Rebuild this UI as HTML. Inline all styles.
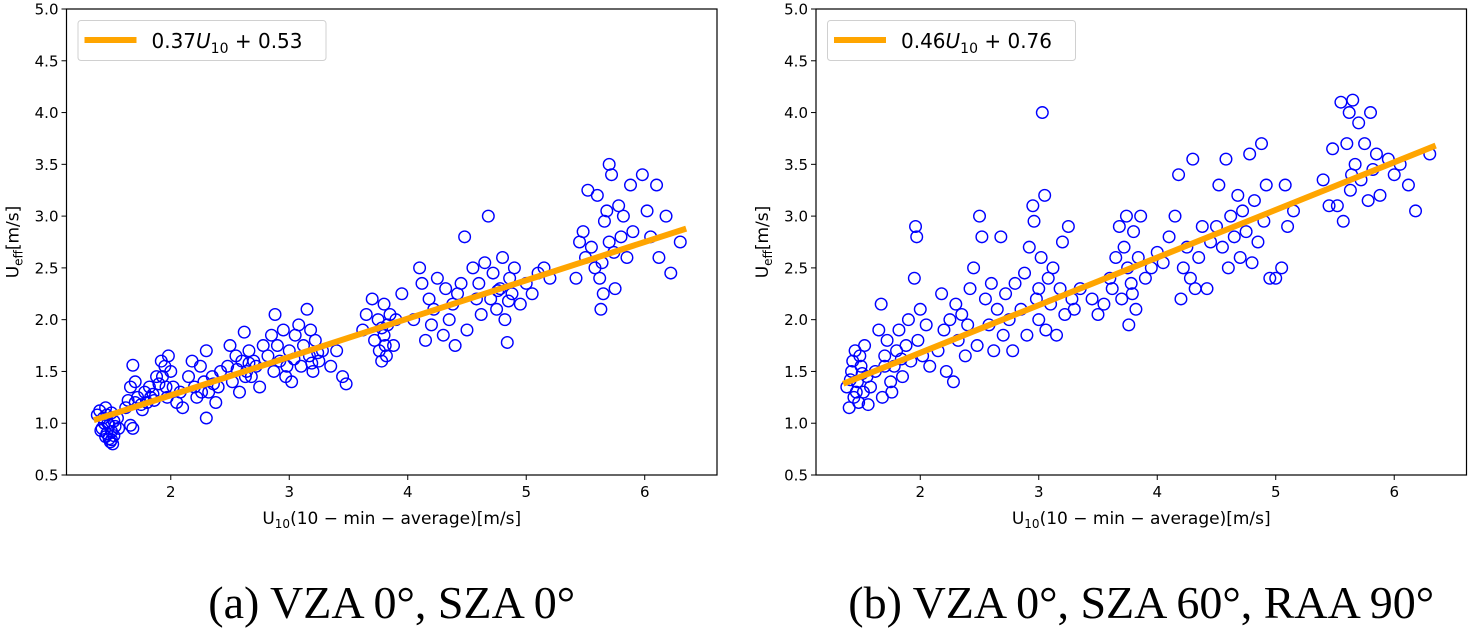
<!DOCTYPE html>
<html><head><meta charset="utf-8"><style>
body{margin:0;background:#fff;}
svg{display:block;font-family:"DejaVu Sans","Liberation Sans",sans-serif;}
</style></head><body>
<svg id="fig" width="1470" height="632" viewBox="0 0 1470 632"></svg>
<script>
const xTicks=[2,3,4,5,6];
const yTicks=[0.5,1.0,1.5,2.0,2.5,3.0,3.5,4.0,4.5,5.0];
const slopes=[0.37,0.46];
const intercepts=[0.53,0.76];
const legendLabels=["0.37","0.46"];
const legendInts=["0.53","0.76"];
const captions=["(a) VZA 0°, SZA 0°","(b) VZA 0°, SZA 60°, RAA 90°"];
const pointsA=[[1.38,1.08],[1.40,1.12],[1.42,0.95],[1.43,1.05],[1.45,1.15],[1.46,0.90],[1.47,1.0],[1.48,0.85],[1.49,0.82],[1.50,0.92],[1.50,1.1],[1.52,0.88],[1.53,0.97],[1.55,1.05],[1.44,1.0],[1.41,0.93],[1.51,0.80],[1.56,0.95],[1.46,1.08],[1.48,0.98],[1.52,1.02],[1.45,0.87],[1.50,0.84],
[1.62,1.15],[1.64,1.22],[1.66,1.35],[1.68,1.56],[1.68,0.95],[1.70,1.40],[1.72,1.25],[1.75,1.18],[1.78,1.30],[1.80,1.20],[1.82,1.35],[1.85,1.28],[1.88,1.45],[1.90,1.38],[1.92,1.60],[1.95,1.55],[1.97,1.25],[1.98,1.65],[2.0,1.50],[2.02,1.35],[2.05,1.20],[2.08,1.30],[2.1,1.15],[1.76,1.13],[1.86,1.22],[1.70,1.20],[1.83,1.25],[1.93,1.45],[1.96,1.35],[1.66,0.98],
[2.15,1.45],[2.18,1.60],[2.20,1.35],[2.22,1.25],[2.25,1.55],[2.28,1.40],[2.30,1.05],[2.30,1.70],[2.32,1.30],[2.35,1.45],[2.38,1.20],[2.40,1.35],[2.42,1.50],[2.26,1.30],[2.36,1.38],
[2.48,1.55],[2.50,1.75],[2.52,1.40],[2.55,1.65],[2.58,1.30],[2.60,1.60],[2.62,1.88],[2.64,1.50],[2.66,1.70],[2.68,1.45],[2.70,1.60],[2.72,1.55],[2.75,1.35],[2.78,1.75],[2.56,1.52],[2.63,1.45],[2.66,1.58],
[2.82,1.65],[2.85,1.85],[2.87,1.50],[2.88,2.05],[2.90,1.75],[2.92,1.60],[2.95,1.90],[2.97,1.45],[3.0,1.70],[3.02,1.40],[3.05,1.85],[3.08,1.95],[3.10,1.55],[2.98,1.55],[3.04,1.62],
[3.12,1.75],[3.15,2.10],[3.17,1.65],[3.18,1.90],[3.20,1.50],[3.22,1.80],[3.25,1.60],[3.28,1.70],[3.35,1.55],[3.45,1.45],[3.48,1.38],[3.40,1.70],[3.19,1.58],[3.24,1.68],
[3.62,1.90],[3.65,2.05],[3.70,2.20],[3.72,1.80],[3.75,2.00],[3.76,1.70],[3.78,1.60],[3.80,2.15],[3.80,1.85],[3.82,1.65],[3.83,1.95],[3.85,2.05],[3.88,1.75],[3.90,2.00],[3.95,2.25],[3.78,1.92],[3.81,1.75],
[4.05,2.00],[4.10,2.50],[4.12,2.35],[4.15,1.80],[4.18,2.20],[4.20,1.95],[4.22,2.10],[4.25,2.40],[4.30,1.85],[4.32,2.30],[4.35,2.00],[4.38,2.15],[4.40,1.75],[4.42,2.25],[4.45,2.35],
[4.48,2.80],[4.50,1.90],[4.55,2.50],[4.58,2.20],[4.60,2.35],[4.62,2.05],[4.65,2.55],[4.68,3.00],[4.70,2.20],[4.72,2.45],[4.75,2.10],[4.78,2.30],[4.80,2.60],[4.82,2.00],[4.84,1.78],[4.86,2.40],[4.88,2.25],[4.90,2.50],[4.95,2.15],[4.76,2.28],[4.85,2.18],
[5.0,2.35],[5.05,2.25],[5.10,2.45],[5.15,2.50],[5.20,2.40],
[5.42,2.40],[5.45,2.75],[5.48,2.85],[5.50,2.60],[5.52,3.25],[5.55,2.70],[5.58,2.50],[5.60,3.20],[5.62,2.40],[5.63,2.10],[5.65,2.25],[5.66,2.95],[5.68,3.05],[5.70,3.50],[5.72,3.40],[5.74,2.65],[5.75,2.30],[5.78,3.10],[5.80,2.80],[5.82,3.00],[5.85,2.60],[5.88,3.30],[5.90,2.85],[5.64,2.55],[5.70,2.75],
[5.98,3.40],[6.02,3.05],[6.05,2.80],[6.10,3.30],[6.12,2.60],[6.18,3.00],[6.22,2.45],[6.30,2.75]];
const pointsB=[[1.38,1.35],[1.40,1.15],[1.42,1.50],[1.44,1.25],[1.45,1.70],[1.47,1.40],[1.48,1.20],[1.50,1.55],[1.52,1.30],[1.53,1.75],[1.55,1.45],[1.56,1.18],[1.43,1.60],[1.49,1.65],[1.58,1.35],[1.41,1.42],[1.46,1.30],[1.51,1.48],
[1.62,1.50],[1.65,1.90],[1.67,2.15],[1.68,1.25],[1.70,1.65],[1.72,1.80],[1.75,1.40],[1.78,1.55],[1.80,1.70],[1.82,1.90],[1.85,1.45],[1.88,1.75],[1.90,2.00],[1.92,1.60],[1.95,2.40],[1.96,2.90],[1.97,2.80],[1.98,1.80],[2.0,2.10],[2.02,1.65],[2.05,1.95],[2.08,1.55],[1.76,1.30],[1.70,1.55],[1.84,1.62],
[2.15,1.70],[2.18,2.25],[2.20,1.90],[2.22,1.50],[2.25,2.00],[2.28,1.40],[2.30,2.15],[2.32,1.80],[2.35,2.05],[2.38,1.65],[2.40,1.95],[2.42,2.30],
[2.45,2.50],[2.48,1.75],[2.50,3.00],[2.52,2.80],[2.55,2.20],[2.58,1.95],[2.60,2.35],[2.62,1.70],[2.65,2.10],[2.68,2.80],[2.70,1.85],[2.72,2.25],[2.75,2.00],[2.78,1.70],[2.80,2.35],
[2.85,2.10],[2.88,2.45],[2.90,1.85],[2.92,2.70],[2.95,3.10],[2.96,2.95],[2.98,2.20],[3.0,2.00],[3.02,2.60],[3.03,4.00],[3.05,3.20],[3.06,1.90],[3.08,2.40],[3.10,2.15],[3.0,2.30],
[3.12,2.50],[3.15,1.85],[3.18,2.30],[3.20,2.75],[3.22,2.05],[3.25,2.90],[3.28,2.20],[3.30,2.10],[3.35,2.30],[3.45,2.20],[3.50,2.05],[3.55,2.15],
[3.60,2.40],[3.62,2.30],[3.65,2.60],[3.68,2.90],[3.70,2.20],[3.72,2.70],[3.74,3.00],[3.75,2.50],[3.76,1.95],[3.78,2.35],[3.80,2.85],[3.82,2.10],[3.84,2.60],[3.86,3.00],[3.90,2.40],[3.95,2.50],[3.79,2.25],
[4.0,2.65],[4.05,2.55],[4.10,2.80],[4.15,3.00],[4.18,3.40],[4.20,2.20],[4.22,2.50],[4.25,2.70],[4.28,2.40],[4.30,3.55],[4.32,2.30],[4.35,2.60],[4.38,2.90],[4.42,2.30],[4.45,2.75],
[4.50,2.90],[4.52,3.30],[4.55,2.70],[4.58,3.55],[4.60,2.50],[4.62,3.00],[4.65,2.80],[4.68,3.20],[4.70,2.60],[4.72,3.05],[4.75,2.85],[4.78,3.60],[4.80,2.55],[4.82,3.15],[4.85,2.75],[4.88,3.70],[4.90,2.95],[4.92,3.30],[4.95,2.40],
[5.0,2.40],[5.05,2.50],[5.08,3.30],[5.10,2.90],[5.15,3.05],
[5.40,3.35],[5.45,3.10],[5.48,3.65],[5.52,3.10],[5.55,4.10],[5.57,2.95],[5.60,3.70],[5.62,4.00],[5.63,3.25],[5.65,4.12],[5.67,3.50],[5.70,3.90],[5.72,3.35],[5.75,3.70],[5.78,3.15],[5.80,4.00],[5.82,3.45],[5.85,3.60],[5.88,3.20],[5.64,3.40],
[5.95,3.55],[6.00,3.40],[6.05,3.50],[6.12,3.30],[6.18,3.05],[6.30,3.60]];
const fitRange=[1.35,6.35];

const NS="http://www.w3.org/2000/svg";
const svg=document.getElementById('fig');
function mk(tag,attrs,parent){const e=document.createElementNS(NS,tag);for(const k in attrs)e.setAttribute(k,attrs[k]);(parent||svg).appendChild(e);return e;}
const panels=[{L:66.5,pts:pointsA,tag:'a'},{L:816,pts:pointsB,tag:'b'}];
const W=650.5,T=9,B=475,XMIN=1.12,XMAX=6.61,YMIN=0.5,YMAX=5.0;
panels.forEach((p,i)=>{
  const g=mk('g',{});
  
  
  const xs=v=>p.L+(v-XMIN)/(XMAX-XMIN)*W;
  const ys=v=>B-(v-YMIN)/(YMAX-YMIN)*(B-T);
  const pg=mk('g',{},g);
  
  
  p.pts.forEach(d=>{
    const c=mk('circle',{cx:xs(d[0]),cy:ys(d[1]),r:5.8,fill:'none',stroke:'#0000ff','stroke-width':1.4},pg);
    
    
  });
  const fl=mk('line',{x1:xs(fitRange[0]),y1:ys(slopes[i]*fitRange[0]+intercepts[i]),x2:xs(fitRange[1]),y2:ys(slopes[i]*fitRange[1]+intercepts[i]),stroke:'#ffa500','stroke-width':6},g);
  
  
  const fr=mk('rect',{x:p.L,y:T,width:W,height:B-T,fill:'none',stroke:'#000','stroke-width':1.2},g);
  
  
  xTicks.forEach(t=>{
    const x=xs(t);
    mk('line',{x1:x,y1:B,x2:x,y2:B+5,stroke:'#000','stroke-width':1},g);
    const tx=mk('text',{x:x,y:B+22,'font-size':15,'text-anchor':'middle',fill:'#000'},g);
    tx.textContent=t;
    
    
  });
  yTicks.forEach(t=>{
    const y=ys(t);
    mk('line',{x1:p.L-5,y1:y,x2:p.L,y2:y,stroke:'#000','stroke-width':1},g);
    const tx=mk('text',{x:p.L-8,y:y+5.5,'font-size':15,'text-anchor':'end',fill:'#000'},g);
    tx.textContent=t.toFixed(1);
    
    
  });
  const xl=mk('text',{x:p.L+W/2,y:524,'font-size':17,'text-anchor':'middle',fill:'#000'},g);
  
  
  xl.innerHTML='U<tspan font-size="12" dy="4">10</tspan><tspan dy="-4">(10 − min − average)[m/s]</tspan>';
  const yl=mk('text',{transform:`translate(${p.L-48},${(T+B)/2}) rotate(-90)`,'font-size':17,'text-anchor':'middle',fill:'#000'},g);
  
  
  yl.innerHTML='U<tspan font-size="12" dy="4">eff</tspan><tspan dy="-4">[m/s]</tspan>';
  const lg=mk('g',{},g);
  
  
  mk('rect',{x:p.L+11.5,y:20.5,width:248,height:40,rx:3,fill:'#fff',stroke:'#d0d0d0','stroke-width':1},lg);
  mk('line',{x1:p.L+18,y1:40,x2:p.L+70,y2:40,stroke:'#ffa500','stroke-width':6},lg);
  const lt=mk('text',{x:p.L+85,y:48,'font-size':20,fill:'#000'},lg);
  lt.innerHTML=legendLabels[i]+'<tspan font-style="italic">U</tspan><tspan font-size="14" dy="5">10</tspan><tspan dy="-5"> + '+legendInts[i]+'</tspan>';
  const cp=mk('text',{x:p.L+W/2,y:618,'font-size':46,'text-anchor':'middle',fill:'#000','font-family':'"Liberation Serif",serif'},svg);
  cp.textContent=captions[i];
  
  
});
</script>
</body></html>
